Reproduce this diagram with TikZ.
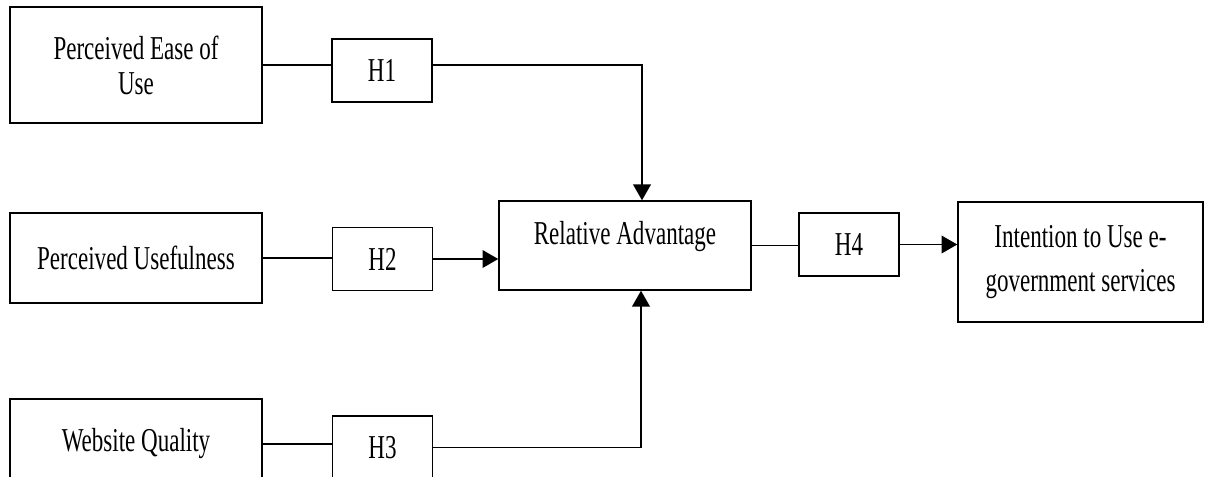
\documentclass[tikz,border=0pt]{standalone}
\usepackage{fontspec}
\newfontfamily\diagfont{Liberation Serif}[FakeStretch=0.69]
\usetikzlibrary{arrows.meta,calc}

\begin{document}
\begin{tikzpicture}[
    x=0.02cm, y=-0.02cm,
    construct/.style={rectangle, draw, line width=0.8pt, align=center, inner sep=0pt, minimum width=5.04cm, font=\diagfont\fontsize{19}{20}\selectfont},
    hyp_box/.style={rectangle, draw, line width=0.8pt, inner sep=0pt, minimum width=2cm, minimum height=1.26cm, font=\diagfont\fontsize{19}{20}\selectfont},
    link/.style={line width=1.1pt},
    link_arrow/.style={line width=1.1pt, -{Triangle[length=9pt, width=10pt]}}
]
\useasboundingbox (0,0) rectangle (1205,477);
\clip (0,0) rectangle (1205,477);

% constructs
\node[construct, minimum height=2.32cm] (peou) at (136,65) {Perceived Ease of\\Use};
\node[construct, minimum height=1.8cm] (pu) at (136,258) {Perceived Usefulness};
\node[construct, minimum height=1.8cm] (wq) at (136,444) {Website Quality};
\node[construct, minimum height=1.78cm, text depth=14pt] (ra) at (625,245.5) {Relative Advantage};
\node[construct, minimum width=4.9cm, minimum height=2.4cm, font=\diagfont\fontsize{19}{25}\selectfont] (it) at (1080.5,262) {Intention to Use e-\\government services};

% hypotheses
\node[hyp_box] (h1) at (382,70.5) {H1};
\node[hyp_box] (h2) at (382.5,259) {H2};
\node[hyp_box] (h3) at (382.5,447.5) {H3};
\node[hyp_box] (h4) at (849,244.5) {H4};

\coordinate (ra_top) at ($(ra.north)+(17,0)$);
\coordinate (ra_bottom) at ($(ra.south)+(16,0)$);

% paths
\draw[link] (peou.east) -- (peou.east -| h1.west);
\draw[link_arrow] (h1.east |- peou.east) -| (ra_top);
\draw[link] (pu.east) -- (pu.east -| h2.west);
\draw[link_arrow] (h2.east) -- (h2.east -| ra.west);
\draw[link] (wq.east) -- (wq.east -| h3.west);
\draw[link_arrow] (h3.east) -| (ra_bottom);
\draw[link] (ra.east) -- (ra.east -| h4.west);
\draw[link_arrow] (h4.east) -- (h4.east -| it.west);
\end{tikzpicture}
\end{document}
